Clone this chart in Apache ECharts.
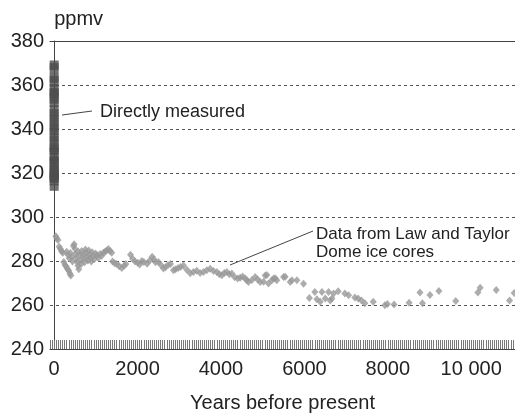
<!DOCTYPE html>
<html>
<head>
<meta charset="utf-8">
<script src="https://cdn.jsdelivr.net/npm/echarts@6/dist/echarts.min.js"></script>
<style>
  html, body { margin: 0; padding: 0; background: #fff; }
  #chart { width: 515px; height: 415px; }
</style>
</head>
<body>
<div id="chart"></div>
<script>
// ice core record (Law Dome + Taylor Dome), years before present / ppmv
const iceYears = [
  40, 60, 90, 120, 150, 180, 210, 230, 260, 290, 320, 350, 380, 400, 300, 330, 360, 390, 420, 440,
  460, 480, 500, 510, 530, 550, 570, 590, 580, 610, 630, 650, 660, 690, 710, 730, 750, 770, 790, 810,
  830, 850, 870, 890, 910, 930, 960, 990, 1030, 1060, 1100, 1140, 1180, 1220, 1260, 1300, 1340, 1380,
  1400, 1450, 1500, 1560, 1620, 1680, 1720, 1830, 1880, 1940, 2000, 2050, 2100, 2150, 2230, 2290, 2350,
  2390, 2430, 2500, 2560, 2620, 2670, 2730, 2790, 2860, 2910, 2970, 3030, 3100, 3180, 3260, 3340, 3420,
  3500, 3580, 3660, 3740, 3820, 3900, 3960, 4020, 4080, 4140, 4200, 4260, 4330, 4400, 4460, 4520, 4580,
  4620, 4660, 4740, 4820, 4880, 4940, 5020, 5060, 5100, 5140, 5220, 5260, 5300, 5340, 5500, 5540, 5660,
  5700, 5820, 5980, 6120, 6250, 6300, 6380, 6420, 6500, 6580, 6620, 6660, 6700, 6810, 6970, 7060, 7210,
  7290, 7370, 7450, 7650, 7930, 7990, 8150, 8510, 8770, 8830, 9010, 9225, 9630, 10160, 10215, 10600,
  10920, 11030
];
const iceCo2 = [
  291.2, 290.3, 289.6, 286.5, 285.5, 284.3, 283.8, 279.5, 278.2, 277.5, 276.4, 275.6, 274.2, 273.4, 284.2, 282.8, 281.2, 283.6, 281.8, 279.8,
  286.8, 287.6, 285.6, 283.2, 281.4, 279.6, 277.8, 276.2, 284.2, 282.6, 280.4, 278.6, 284.6, 282.8, 281.2, 279.4, 285.2, 283.6, 281.8, 280.2,
  284.8, 283.0, 281.4, 279.8, 284.0, 282.2, 280.8, 283.4, 282.6, 281.4, 283.2, 282.4, 283.8, 284.2, 284.8, 285.4, 284.6, 283.8,
  279.8, 279.0, 278.6, 277.6, 276.8, 277.8, 278.6, 282.8, 281.0, 279.8, 279.2, 278.4, 280.0, 279.6, 278.8, 280.2, 281.9,
  280.8, 279.4, 279.6, 278.2, 276.6, 277.2, 278.2, 278.6, 275.8, 276.2, 276.8, 277.3, 278.0, 276.0, 274.4, 275.0, 275.6,
  274.6, 275.0, 275.8, 276.5, 275.4, 275.0, 274.0, 273.5, 274.6, 275.0, 274.0, 274.3, 272.6, 272.0, 272.4, 273.0, 272.0,
  271.2, 270.4, 271.4, 272.7, 271.6, 270.5, 270.6, 273.4, 273.6, 269.8, 271.2, 272.0, 272.2, 271.2, 272.7, 272.8, 270.5,
  271.2, 271.2, 269.7, 263.2, 265.9, 262.6, 261.5, 265.9, 262.9, 265.9, 262.1, 262.9, 265.2, 266.3, 265.2, 264.4, 263.4,
  262.9, 262.1, 260.8, 261.5, 259.9, 260.5, 260.2, 261.0, 265.7, 260.8, 264.6, 266.4, 261.8, 265.7, 267.8, 266.8,
  262.0, 265.4
];
// directly measured (annual means, plotted at year 0)
const measuredCo2 = [
  313.5, 315.97, 316.91, 317.64, 318.45, 318.99, 319.62, 320.04, 321.38, 322.16, 323.04, 324.62, 325.68,
  326.32, 327.45, 329.68, 330.18, 331.11, 332.04, 333.83, 335.40, 336.84, 338.75, 340.11, 341.45, 343.05,
  344.65, 346.12, 347.42, 349.19, 351.57, 353.12, 354.39, 355.61, 356.45, 357.10, 358.83, 360.82, 362.61,
  363.73, 366.70, 368.38, 369.55
];
const yTicks = [240, 260, 280, 300, 320, 340, 360, 380];
const xLabelYears = [0, 2000, 4000, 6000, 8000, 10000];

const FONT = '"Liberation Sans", Arial, sans-serif';
const chart = echarts.init(document.getElementById('chart'), null, { renderer: 'canvas' });

const xMin = -100, xMax = 11050;

chart.setOption({
  animation: false,
  backgroundColor: '#fff',
  textStyle: { fontFamily: FONT },
  grid: { left: 50, right: 0, top: 41, bottom: 66, containLabel: false, outerBoundsMode: 'none' },
  xAxis: [
    {
      type: 'value',
      position: 'bottom',
      min: xMin, max: xMax, interval: 50,
      name: 'Years before present',
      nameLocation: 'middle',
      nameGap: 44,
      nameTextStyle: { fontSize: 20, color: '#222', fontFamily: FONT },
      axisLine: { show: true, lineStyle: { color: '#444', width: 1 } },
      axisTick: { show: true, inside: true, length: 9, lineStyle: { color: '#777', width: 1 } },
      axisLabel: {
        color: '#222', fontSize: 20, margin: 10, fontFamily: FONT,
        formatter: v => {
          const r = Math.round(v);
          if (!xLabelYears.includes(r)) return '';
          return r >= 10000 ? String(r).replace(/(\d)(\d{3})$/, '$1 $2') : String(r);
        },
      },
      splitLine: { show: false },
    },
    {
      type: 'value',
      position: 'top',
      min: xMin, max: xMax,
      axisLine: { show: true, lineStyle: { color: '#444', width: 1 } },
      axisTick: { show: false },
      axisLabel: { show: false },
      splitLine: { show: false },
    },
  ],
  yAxis: {
    type: 'value',
    min: yTicks[0], max: yTicks[yTicks.length - 1], interval: 20,
    name: 'ppmv',
    nameLocation: 'end',
    nameGap: 12,
    nameTextStyle: { fontSize: 20, color: '#222', align: 'left', fontFamily: FONT },
    axisLine: { show: true, lineStyle: { color: '#444', width: 1 } },
    axisTick: { show: false },
    axisLabel: { color: '#222', fontSize: 20, margin: 6, fontFamily: FONT },
    splitLine: { show: true, lineStyle: { color: '#555', type: [3, 3], width: 1 } },
  },
  series: [
    {
      name: 'Directly measured',
      type: 'scatter',
      xAxisIndex: 0,
      data: measuredCo2.map(v => [0, v]),
      symbol: 'rect',
      symbolSize: [9, 7],
      itemStyle: { color: '#4d4d4d' },
      z: 3,
    },
    {
      name: 'Ice cores',
      type: 'scatter',
      xAxisIndex: 0,
      data: iceYears.map((y, i) => [y, iceCo2[i]]),
      symbol: 'diamond',
      symbolSize: [7, 8],
      itemStyle: { color: '#999999' },
      z: 3,
    },
  ],
  graphic: [
    { type: 'line', shape: { x1: 62, y1: 115, x2: 92, y2: 111 }, style: { stroke: '#444', lineWidth: 1 } },
    { type: 'text', left: 100, top: 103, style: { text: 'Directly measured', fontSize: 18, fill: '#222', fontFamily: FONT } },
    { type: 'line', shape: { x1: 230, y1: 265, x2: 313, y2: 231 }, style: { stroke: '#444', lineWidth: 1 } },
    { type: 'text', left: 316, top: 225, style: { text: 'Data from Law and Taylor\nDome ice cores', fontSize: 17, lineHeight: 18, fill: '#222', fontFamily: FONT } },
  ],
});
</script>
</body>
</html>
